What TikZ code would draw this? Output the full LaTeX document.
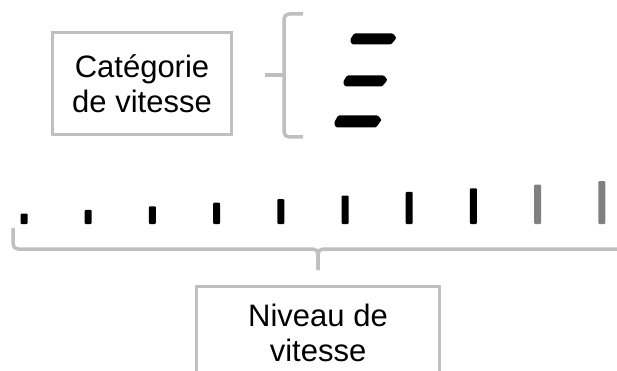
\documentclass[tikz,border=0pt]{standalone}
\usepackage{fontspec}
\setmainfont{Liberation Sans}
\usepackage{tikz}
\definecolor{framegray}{HTML}{BFBFBF}
\definecolor{bargray}{HTML}{808080}

\begin{document}
\begin{tikzpicture}[
          x=1pt, y=-1pt,
          label box/.style={rectangle, draw=framegray, line width=3.5pt,
                            font=\fontsize{31}{35}\selectfont, align=center,
                            inner sep=0pt},
          brace/.style={draw=framegray, line width=3.5pt, rounded corners=5pt},
          dash seg/.style={fill=black, rounded corners=1.2pt},
          bar/.style={fill=black, rounded corners=1pt},
          bar light/.style={fill=bargray, rounded corners=1pt}
        ]
          \useasboundingbox (0,0) rectangle (617,371);
          \clip (0,0) rectangle (617,371);
          % boxes
          \node[label box, minimum width=179pt, minimum height=102pt]
            (cat) at (142,83.5) {Catégorie\\de vitesse};
          \node[label box, minimum width=243pt, minimum height=92pt]
            (niv) at (318,332.5) {Niveau de\\vitesse};
          % upper brace
          \coordinate (cat tip) at (265,75);
          \draw[brace] (303,14) -- (284,14) -- (284,75) -- (284,137) -- (303,137);
          \draw[brace] (cat tip) -- (284,75);
          % speed categories
          \fill[dash seg] (350,40) -- (354,33.5) -- (393,33.5) -- (396.5,38)
                          -- (391,44.5) -- (352,44.5) -- cycle;
          \fill[dash seg] (343,82) -- (347,75.5) -- (384,75.5) -- (387.5,80)
                          -- (382,86.5) -- (345,86.5) -- cycle;
          \fill[dash seg] (334,123) -- (338,115.5) -- (378,115.5) -- (381.5,120)
                          -- (376,127.5) -- (336,127.5) -- cycle;
          % speed levels
          \fill[bar] (20.5,213.5) rectangle (27.5,224);
          \fill[bar] (84.7,209.9) rectangle (91.7,224);
          \fill[bar] (148.9,206.3) rectangle (155.9,224);
          \fill[bar] (213.1,202.7) rectangle (220.1,224);
          \fill[bar] (277.3,199.1) rectangle (284.3,224);
          \fill[bar] (341.5,195.5) rectangle (348.5,224);
          \fill[bar] (405.7,191.9) rectangle (412.7,224);
          \fill[bar] (469.9,188.3) rectangle (476.9,224);
          \fill[bar light] (534.1,184.7) rectangle (541.1,224);
          \fill[bar light] (598.3,181.1) rectangle (605.3,224);
          % lower brace
          \coordinate (niv tip) at (318,270);
          \draw[brace] (13,228) -- (13,249) -- (318,249) -- (niv tip);
          \draw[brace] (niv tip) -- (318,249) -- (625,249);
        \end{tikzpicture}
\end{document}
